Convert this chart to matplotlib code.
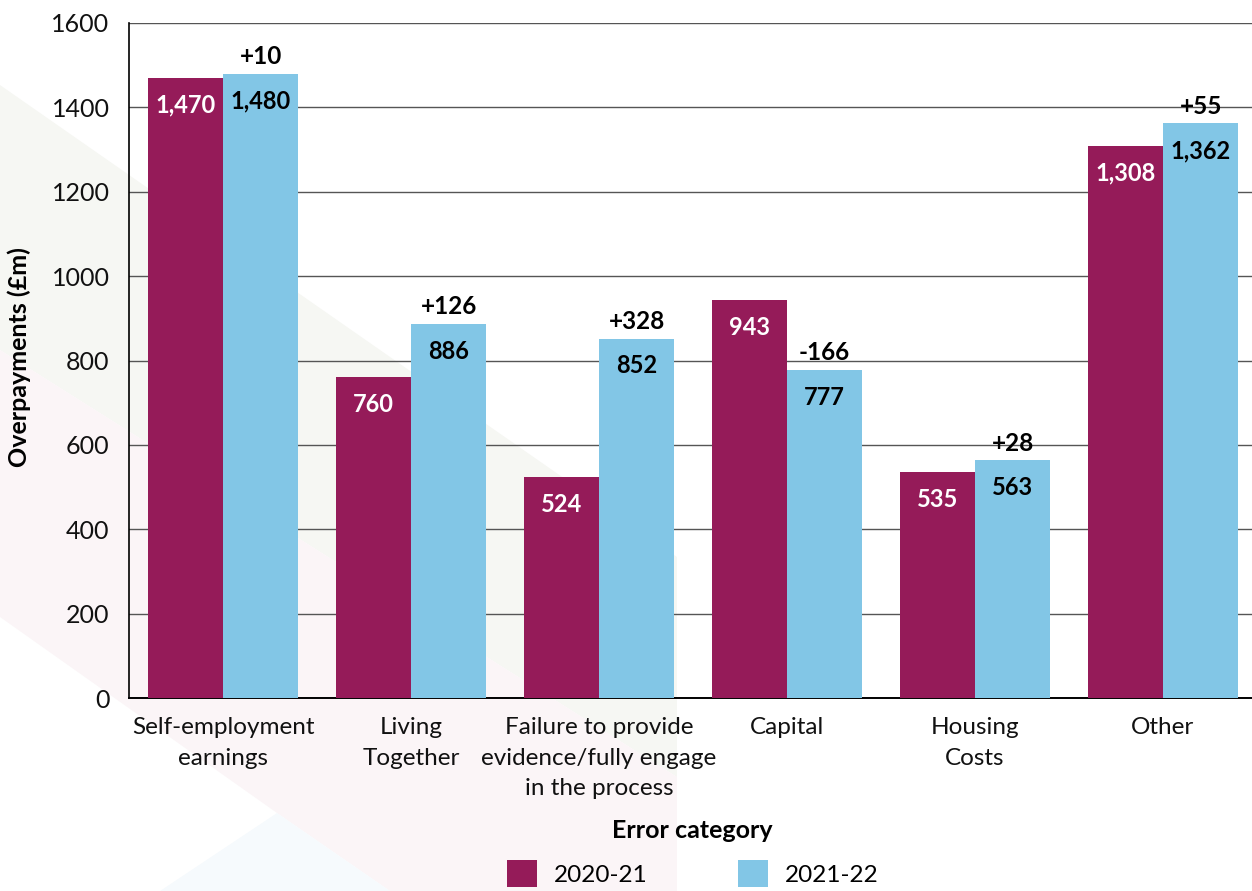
import numpy as np
import matplotlib
matplotlib.use('Agg')
import matplotlib.pyplot as plt
from matplotlib.patches import Polygon


# ########## #
# Chart data #
# ########## #
categories = ['Self-employment\nearnings', 'Living\nTogether',
              'Failure to provide\nevidence/fully engage\nin the process',
              'Capital', 'Housing\nCosts', 'Other']
series_names = ['2020-21', '2021-22']
values_2020 = [1470, 760, 524, 943, 535, 1308]
values_2021 = [1480, 886, 852, 777, 563, 1362]
change_labels = ['+10', '+126', '+328', '-166', '+28', '+55']

MAROON = '#951B59'
BLUE = '#82C6E6'
W, H = 1252, 891


def px_poly(points, color):
    """
    polygon given in pixel coords (y down) -> figure coords
    """
    xy = [(x / W, 1 - y / H) for x, y in points]
    return Polygon(xy, closed=True, transform=fig.transFigure, facecolor=color,
                   edgecolor='none', zorder=-10)


plt.rcParams['font.family'] = ['Lato', 'DejaVu Sans']

fig = plt.figure(figsize=(W / 100, H / 100), dpi=100)

# faint background shapes
fig.patches.append(px_poly([(0, 85), (677, 557), (677, 777), (0, 350)], '#F6F7F3'))
fig.patches.append(px_poly([(0, 350), (677, 777), (677, 891), (390, 891), (277, 813), (0, 617)], '#FBF5F7'))
fig.patches.append(px_poly([(277, 813), (160, 891), (390, 891)], '#F6FAFD'))

# axes runs slightly past the right edge, as in the original
ax = fig.add_axes([129 / W, 1 - 698 / H, 1128 / W, (698 - 23) / H])
ax.patch.set_alpha(0)

x = np.arange(len(categories))
width = 0.40
bars1 = ax.bar(x - width / 2, values_2020, width, color=MAROON, label=series_names[0], zorder=3)
bars2 = ax.bar(x + width / 2, values_2021, width, color=BLUE, label=series_names[1], zorder=3)

for b, v in zip(bars1, values_2020):
    ax.annotate(f'{v:,}', (b.get_x() + b.get_width() / 2, v), xytext=(0, -19.5),
                textcoords='offset points', ha='center', va='center',
                color='white', fontsize=17, fontweight='bold', zorder=4)
for b, v, d in zip(bars2, values_2021, change_labels):
    cx = b.get_x() + b.get_width() / 2
    ax.annotate(f'{v:,}', (cx, v), xytext=(0, -19.5),
                textcoords='offset points', ha='center', va='center',
                color='black', fontsize=17, fontweight='bold', zorder=4)
    ax.annotate(d, (cx, v), xytext=(0, 12.5),
                textcoords='offset points', ha='center', va='center',
                color='black', fontsize=17.5, fontweight='bold', zorder=4)

ax.set_xlim(-0.5, len(categories) - 0.5)
ax.set_ylim(0, 1600)
ax.set_yticks(np.arange(0, 1601, 200))
ax.yaxis.grid(True, color='#555555', linewidth=1.0, zorder=0)
ax.set_axisbelow(True)
ax.set_xticks(x)
ax.set_xticklabels(categories, fontsize=17.5, linespacing=1.55, color='#111111')
ax.tick_params(axis='both', length=0)
ax.tick_params(axis='y', labelsize=18, pad=14, labelcolor='#111111')
ax.tick_params(axis='x', pad=14)

for s in ['top', 'right']:
    ax.spines[s].set_visible(False)
ax.spines['left'].set_color('black')
ax.spines['bottom'].set_color('black')
ax.spines['left'].set_linewidth(1.2)
ax.spines['bottom'].set_linewidth(1.4)

fig.text(19 / W, 1 - 357 / H, 'Overpayments (£m)', rotation=90, ha='center', va='center',
         fontsize=18, fontweight='bold')
fig.text(692 / W, 1 - 830 / H, 'Error category', ha='center', va='center',
         fontsize=18, fontweight='bold')

fig.legend(loc='upper center', bbox_to_anchor=(693 / W, 1 - 860 / H), ncol=2, frameon=False,
           fontsize=17.5, handlelength=1.25, handleheight=1.35, handletextpad=0.7,
           columnspacing=3.7, borderaxespad=0, borderpad=0)

fig.savefig('out.png', dpi=100)
